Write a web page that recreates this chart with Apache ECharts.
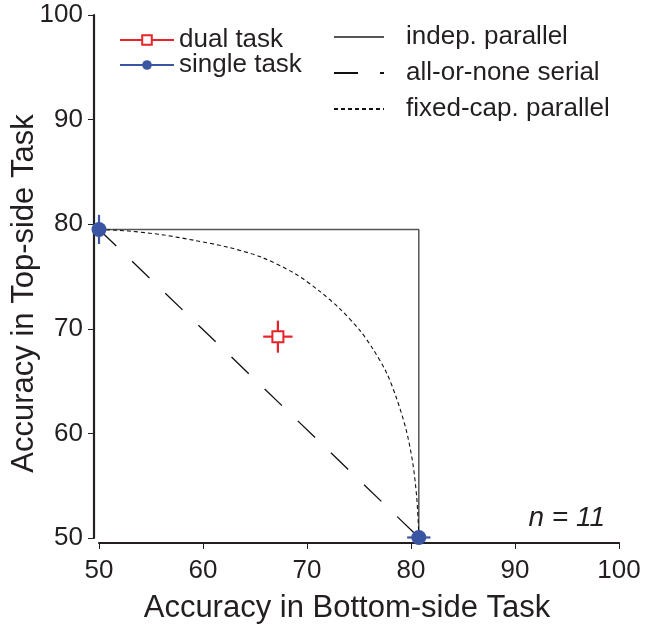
<!DOCTYPE html>
<html>
<head>
<meta charset="utf-8">
<script src="https://cdn.jsdelivr.net/npm/echarts@6/dist/echarts.min.js"></script>
<style>
html,body{margin:0;padding:0;background:#fff;}
#chart{width:667px;height:627px;}
</style>
</head>
<body>
<div id="chart"></div>
<script>
// ---- data ----
const xTicks = [50, 60, 70, 80, 90, 100];
const yTicks = [50, 60, 70, 80, 90, 100];
// [x, y, xErr, yErr]
const singleTask = [[50.0, 79.5, 0, 1.39], [80.75, 50.05, 1.12, 0]];
const dualTask = [[67.2, 69.25, 1.41, 1.53]];
const indepParallel = [[50.0, 79.5], [80.75, 79.5], [80.75, 50.05]];
const allOrNoneSerial = [[50.0, 79.5], [80.75, 50.05]];
const fixedCapParallel = [
  [50.0, 79.5], [52.8, 79.35], [56.0, 79.0], [59.2, 78.45], [62.4, 77.8],
  [65.6, 76.85], [68.8, 75.3], [71.2, 73.6], [73.12, 71.95], [75.04, 69.9],
  [76.32, 68.1], [77.6, 65.9], [78.56, 63.5], [79.52, 60.4], [80.15, 57.3],
  [80.54, 54.0], [80.73, 50.8], [80.75, 50.05]
];
const sampleLabel = 'n = 11';

// ---- styles ----
const FONT = '"Liberation Sans", Arial, Helvetica, sans-serif';
const TXT = '#231f20';
const RED = '#e8232a';
const BLUE = '#3a55a4';

function errRender(color) {
  return function (params, api) {
    const x = api.value(0), y = api.value(1), ex = api.value(2), ey = api.value(3);
    const kids = [];
    if (ex > 0) {
      const a = api.coord([x - ex, y]), b = api.coord([x + ex, y]);
      kids.push({type: 'line', shape: {x1: a[0], y1: a[1], x2: b[0], y2: b[1]}, style: {stroke: color, lineWidth: 2.2}});
    }
    if (ey > 0) {
      const a = api.coord([x, y - ey]), b = api.coord([x, y + ey]);
      kids.push({type: 'line', shape: {x1: a[0], y1: a[1], x2: b[0], y2: b[1]}, style: {stroke: color, lineWidth: 2.2}});
    }
    return {type: 'group', children: kids};
  };
}

const chart = echarts.init(document.getElementById('chart'), null, {renderer: 'canvas'});

const markerSeries = [];
singleTask.forEach(function (p) {
  markerSeries.push({
    name: 'single task', type: 'line', data: [[p[0], p[1]]],
    symbol: 'circle', symbolSize: 15, z: 5,
    itemStyle: {color: BLUE}, lineStyle: {color: BLUE, width: 2}
  });
});
dualTask.forEach(function (p) {
  markerSeries.push({
    name: 'dual task', type: 'line', data: [[p[0], p[1]]],
    symbol: 'rect', symbolSize: 11, z: 5,
    itemStyle: {color: '#fff', borderColor: RED, borderWidth: 2}, lineStyle: {color: RED, width: 2}
  });
});

const noSym = {opacity: 0};

chart.setOption({
  animation: false,
  backgroundColor: '#fff',
  textStyle: {fontFamily: FONT, color: TXT},
  grid: {left: 99, right: 48, top: 15, bottom: 89, outerBoundsMode: 'none', containLabel: false},
  legend: [
    {
      data: ['dual task', 'single task'],
      orient: 'vertical', left: 114, top: 22,
      itemWidth: 54, itemHeight: 12, itemGap: -1,
      textStyle: {fontSize: 26, color: TXT, fontFamily: FONT, lineHeight: 24},
      selectedMode: false
    },
    {
      data: [
        {name: 'indep. parallel', itemStyle: noSym},
        {name: 'all-or-none serial', itemStyle: noSym},
        {name: 'fixed-cap. parallel', itemStyle: noSym}
      ],
      orient: 'vertical', left: 328, top: 19,
      itemWidth: 50, itemHeight: 12, itemGap: 10,
      textStyle: {fontSize: 26, color: TXT, fontFamily: FONT, lineHeight: 26, padding: [0, 0, 0, 17]},
      selectedMode: false
    }
  ],
  xAxis: {
    type: 'value', min: xTicks[0], max: xTicks[xTicks.length - 1], interval: 10, offset: 5,
    axisLine: {show: true, onZero: false, lineStyle: {color: TXT, width: 2.2}},
    axisTick: {show: true, length: 6, lineStyle: {color: TXT, width: 1}},
    splitLine: {show: false},
    axisLabel: {fontSize: 26, color: TXT, fontFamily: FONT, margin: 15},
    name: 'Accuracy in Bottom-side Task', nameLocation: 'middle', nameGap: 50,
    nameMoveOverlap: false,
    nameTextStyle: {fontSize: 31, color: TXT, fontFamily: FONT, padding: [0, 24, 0, 0]}
  },
  yAxis: {
    type: 'value', min: yTicks[0], max: yTicks[yTicks.length - 1], interval: 10, offset: 5,
    axisLine: {show: true, onZero: false, lineStyle: {color: TXT, width: 2.2}},
    axisTick: {show: true, length: 6, lineStyle: {color: TXT, width: 1}},
    splitLine: {show: false},
    axisLabel: {fontSize: 26, color: TXT, fontFamily: FONT, margin: 11},
    name: 'Accuracy in Top-side Task', nameLocation: 'middle', nameGap: 54, nameRotate: 90,
    nameMoveOverlap: false,
    nameTextStyle: {fontSize: 31, color: TXT, fontFamily: FONT, padding: [0, 34, 0, 0]}
  },
  graphic: [{
    type: 'text', right: 62, top: 504,
    style: {text: sampleLabel, font: 'italic 28px ' + FONT, fill: TXT}
  }],
  series: [
    {
      name: 'indep. parallel', type: 'line', data: indepParallel, symbol: 'none', z: 1,
      lineStyle: {color: '#555', width: 1.5}, itemStyle: {color: '#555'}
    },
    {
      name: 'all-or-none serial', type: 'line', data: allOrNoneSerial, symbol: 'none', z: 1,
      lineStyle: {color: '#111', width: 1.3, type: [24, 22]}, itemStyle: {color: '#111'}
    },
    {
      name: 'fixed-cap. parallel', type: 'line', data: fixedCapParallel, symbol: 'none', z: 1, smooth: 0.3,
      lineStyle: {color: '#111', width: 1.1, type: [4, 3]}, itemStyle: {color: '#111'}
    },
    {type: 'custom', renderItem: errRender(BLUE), data: singleTask, z: 3, silent: true},
    {type: 'custom', renderItem: errRender(RED), data: dualTask, z: 3, silent: true}
  ].concat(markerSeries)
});
</script>
</body>
</html>
